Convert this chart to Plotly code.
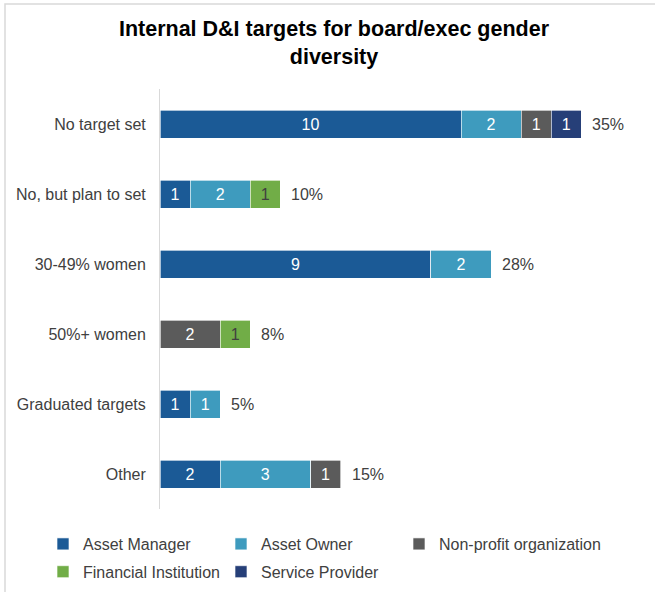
import plotly.graph_objects as go

# Survey responses: internal D&I targets for board/exec gender diversity
categories = [
    "No target set",
    "No, but plan to set",
    "30-49% women",
    "50%+ women",
    "Graduated targets",
    "Other",
]

asset_manager = [10, 1, 9, None, 1, 2]
asset_owner = [2, 2, 2, None, 1, 3]
non_profit = [1, None, None, 2, None, 1]
financial_institution = [None, 1, None, 1, None, None]
service_provider = [1, None, None, None, None, None]

share_labels = ["35%", "10%", "28%", "8%", "5%", "15%"]

# name, values, fill colour, in-bar text colour, legend column
series = [
    ("Asset Manager", asset_manager, "#1B5A96", "#FFFFFF", "legend"),
    ("Asset Owner", asset_owner, "#3E9BBE", "#FFFFFF", "legend2"),
    ("Non-profit organization", non_profit, "#5B5B5B", "#FFFFFF", "legend3"),
    ("Financial Institution", financial_institution, "#71AD47", "#404040", "legend"),
    ("Service Provider", service_provider, "#263F78", "#FFFFFF", "legend2"),
]

FONT = "Arial, Liberation Sans, Helvetica, sans-serif"
TEXT_GREY = "#404040"
FS = 16

W, H = 655, 592
L, R, T, B = 160, 19, 89, 83
UNIT_PX = 30.1
plot_w = W - L - R
plot_h = H - T - B

fig = go.Figure()

for name, vals, color, txt_color, leg in series:
    fig.add_trace(go.Bar(
        name=name,
        y=categories,
        x=vals,
        orientation="h",
        legend=leg,
        legendgroup=name,
        marker=dict(color=color, line=dict(color="rgba(255,255,255,0.8)", width=0.8)),
        text=[("" if v is None else str(v)) for v in vals],
        textposition="inside",
        insidetextanchor="middle",
        textangle=0,
        constraintext="none",
        textfont=dict(family=FONT, size=FS, color=txt_color),
        hoverinfo="skip",
    ))

# Row totals, used to place the share labels at the end of each bar
totals = [
    sum(v for v in col if v is not None)
    for col in zip(asset_manager, asset_owner, non_profit,
                   financial_institution, service_provider)
]

share_annotations = [
    dict(
        x=t, y=cat, xref="x", yref="y",
        text=lab, showarrow=False,
        xanchor="left", yanchor="middle",
        xshift=9, yshift=0,
        font=dict(family=FONT, size=FS, color=TEXT_GREY),
    )
    for t, cat, lab in zip(totals, categories, share_labels)
]


def legend_column(left_px):
    return dict(
        orientation="v",
        x=(left_px - L) / plot_w,
        xanchor="left",
        y=-(18 / plot_h),
        yanchor="top",
        font=dict(family=FONT, size=FS, color=TEXT_GREY),
        traceorder="grouped",
        tracegroupgap=4,
        itemwidth=30,
        bgcolor="rgba(0,0,0,0)",
    )


fig.update_layout(
    width=W,
    height=H,
    margin=dict(l=L, r=R, t=T, b=B, autoexpand=False),
    barmode="stack",
    bargap=0.6,
    plot_bgcolor="white",
    paper_bgcolor="white",
    font=dict(family=FONT, size=FS, color=TEXT_GREY),
    title=dict(
        text="Internal D&I targets for board/exec gender<br>diversity",
        font=dict(family=FONT, size=21.5, color="#000000", weight="bold"),
        x=334 / W,
        xanchor="center",
        xref="container",
        y=1 - 36 / H,
        yanchor="top",
        yref="container",
    ),
    xaxis=dict(
        range=[0, plot_w / UNIT_PX],
        visible=False,
        showgrid=False,
        zeroline=False,
    ),
    yaxis=dict(
        autorange="reversed",
        showline=True,
        linecolor="#D9D9D9",
        linewidth=1,
        ticks="",
        ticklabelstandoff=10,
        tickfont=dict(family=FONT, size=FS, color=TEXT_GREY),
        showgrid=False,
    ),
    legend=legend_column(43),
    legend2=legend_column(221),
    legend3=legend_column(399),
    annotations=share_annotations,
    shapes=[
        # light outer frame around the chart area
        dict(
            type="rect",
            xref="paper", yref="paper",
            x0=(5 - L) / plot_w, x1=(W + 10 - L) / plot_w,
            y0=-(H + 10 - T - plot_h) / plot_h, y1=1 + (T - 4) / plot_h,
            line=dict(color="#D9D9D9", width=1.5),
            fillcolor="rgba(0,0,0,0)",
            layer="below",
        )
    ],
)

fig.write_html("out.html")
